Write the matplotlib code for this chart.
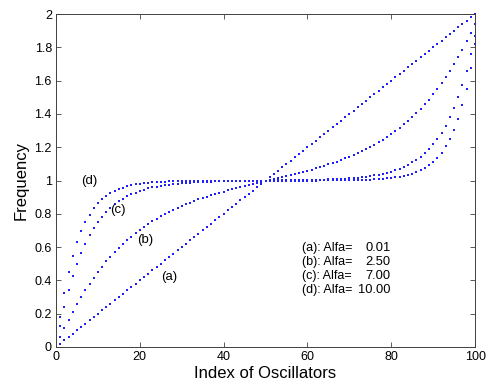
import matplotlib
matplotlib.use("Agg")
import matplotlib.pyplot as plt
from matplotlib.ticker import FormatStrFormatter
import numpy as np

plt.rcParams['font.family'] = ['Liberation Sans', 'DejaVu Sans']

# oscillator index 1..100
index = np.arange(1, 101)

freq_a = [0.02, 0.04, 0.06, 0.08, 0.10, 0.12, 0.14, 0.16, 0.18, 0.20,
          0.22, 0.24, 0.26, 0.28, 0.30, 0.32, 0.34, 0.36, 0.38, 0.40,
          0.42, 0.44, 0.46, 0.48, 0.50, 0.52, 0.54, 0.56, 0.58, 0.60,
          0.62, 0.64, 0.66, 0.68, 0.70, 0.72, 0.74, 0.76, 0.78, 0.80,
          0.82, 0.84, 0.86, 0.88, 0.90, 0.92, 0.94, 0.96, 0.98, 1.00,
          1.02, 1.04, 1.06, 1.08, 1.10, 1.12, 1.14, 1.16, 1.18, 1.20,
          1.22, 1.24, 1.26, 1.28, 1.30, 1.32, 1.34, 1.36, 1.38, 1.40,
          1.42, 1.44, 1.46, 1.48, 1.50, 1.52, 1.54, 1.56, 1.58, 1.60,
          1.62, 1.64, 1.66, 1.68, 1.70, 1.72, 1.74, 1.76, 1.78, 1.80,
          1.82, 1.84, 1.86, 1.88, 1.90, 1.92, 1.94, 1.96, 1.98, 2.00]

freq_b = [0.058, 0.113, 0.164, 0.213, 0.259, 0.302, 0.343, 0.381, 0.417, 0.451,
          0.483, 0.514, 0.542, 0.569, 0.595, 0.619, 0.642, 0.663, 0.684, 0.703,
          0.721, 0.738, 0.754, 0.769, 0.784, 0.798, 0.811, 0.823, 0.835, 0.846,
          0.857, 0.867, 0.877, 0.886, 0.895, 0.903, 0.911, 0.919, 0.926, 0.934,
          0.941, 0.947, 0.954, 0.961, 0.967, 0.973, 0.979, 0.985, 0.991, 0.997,
          1.003, 1.009, 1.015, 1.021, 1.027, 1.033, 1.039, 1.046, 1.053, 1.059,
          1.066, 1.074, 1.081, 1.089, 1.097, 1.105, 1.114, 1.123, 1.133, 1.143,
          1.154, 1.165, 1.177, 1.189, 1.202, 1.216, 1.231, 1.246, 1.262, 1.279,
          1.297, 1.316, 1.337, 1.358, 1.381, 1.405, 1.431, 1.458, 1.486, 1.517,
          1.549, 1.583, 1.619, 1.657, 1.698, 1.741, 1.787, 1.836, 1.887, 1.942]

freq_c = [0.129, 0.242, 0.340, 0.426, 0.500, 0.565, 0.621, 0.670, 0.713, 0.750,
          0.782, 0.810, 0.835, 0.856, 0.875, 0.891, 0.905, 0.917, 0.928, 0.937,
          0.946, 0.953, 0.959, 0.964, 0.969, 0.973, 0.976, 0.979, 0.982, 0.984,
          0.986, 0.988, 0.990, 0.991, 0.992, 0.993, 0.994, 0.995, 0.996, 0.996,
          0.997, 0.997, 0.998, 0.998, 0.998, 0.999, 0.999, 0.999, 1.000, 1.000,
          1.000, 1.000, 1.001, 1.001, 1.001, 1.002, 1.002, 1.002, 1.003, 1.003,
          1.004, 1.004, 1.005, 1.006, 1.007, 1.008, 1.009, 1.010, 1.012, 1.014,
          1.016, 1.018, 1.021, 1.024, 1.027, 1.031, 1.036, 1.041, 1.047, 1.054,
          1.063, 1.072, 1.083, 1.095, 1.109, 1.125, 1.144, 1.165, 1.190, 1.218,
          1.250, 1.287, 1.330, 1.379, 1.435, 1.500, 1.574, 1.660, 1.758, 1.871]

freq_d = [0.180, 0.327, 0.448, 0.547, 0.628, 0.695, 0.750, 0.795, 0.832, 0.862,
          0.887, 0.907, 0.924, 0.937, 0.949, 0.958, 0.965, 0.972, 0.977, 0.981,
          0.984, 0.987, 0.989, 0.991, 0.993, 0.994, 0.995, 0.996, 0.997, 0.997,
          0.998, 0.998, 0.999, 0.999, 0.999, 0.999, 0.999, 0.999, 1.000, 1.000,
          1.000, 1.000, 1.000, 1.000, 1.000, 1.000, 1.000, 1.000, 1.000, 1.000,
          1.000, 1.000, 1.000, 1.000, 1.000, 1.000, 1.000, 1.000, 1.000, 1.000,
          1.000, 1.000, 1.001, 1.001, 1.001, 1.001, 1.001, 1.001, 1.002, 1.002,
          1.003, 1.003, 1.004, 1.005, 1.006, 1.007, 1.009, 1.011, 1.013, 1.016,
          1.019, 1.023, 1.028, 1.035, 1.042, 1.051, 1.063, 1.076, 1.093, 1.113,
          1.138, 1.168, 1.205, 1.250, 1.305, 1.372, 1.453, 1.552, 1.673, 1.820]

curve_tags = ['(a)', '(b)', '(c)', '(d)']
alfa_values = [0.01, 2.50, 7.00, 10.00]

fig = plt.figure(figsize=(4.89, 3.84), dpi=100)
ax = fig.add_axes([0.1145, 0.0964, 0.857, 0.867])

for f in [freq_a, freq_b, freq_c, freq_d]:
    ax.plot(index, f, linestyle='none', marker='s', markersize=1.9,
            markeredgewidth=0, color='#2020ff', clip_on=False)

ax.set_xlim(0, 100)
ax.set_ylim(0, 2)
ax.set_xticks(np.arange(0, 101, 20))
ax.set_yticks(np.arange(0, 2.01, 0.2))
ax.yaxis.set_major_formatter(FormatStrFormatter('%g'))
ax.tick_params(direction='in', top=True, right=True, length=3.5,
               width=0.6, color='#404040', labelsize=9, pad=3)
for s in ax.spines.values():
    s.set_linewidth(0.7)
    s.set_color('#404040')

ax.set_xlabel('Index of Oscillators', fontsize=12, labelpad=2)
ax.set_ylabel('Frequency', fontsize=12, labelpad=4)

# curve tags next to each family
tag_pos = [(27.0, 0.42), (21.2, 0.64), (14.7, 0.82), (7.9, 1.00)]
for tag, (tx, ty) in zip(curve_tags, tag_pos):
    ax.text(tx, ty, tag, fontsize=9.5, ha='center', va='center')

# parameter table
row_y = [0.595, 0.511, 0.427, 0.343]
for tag, alfa, ry in zip(curve_tags, alfa_values, row_y):
    ax.text(58.6, ry, tag + ': Alfa=', fontsize=9, ha='left', va='center')
    ax.text(79.8, ry, '%.2f' % alfa, fontsize=9.3, ha='right', va='center')

fig.savefig('out.png', dpi=100)
